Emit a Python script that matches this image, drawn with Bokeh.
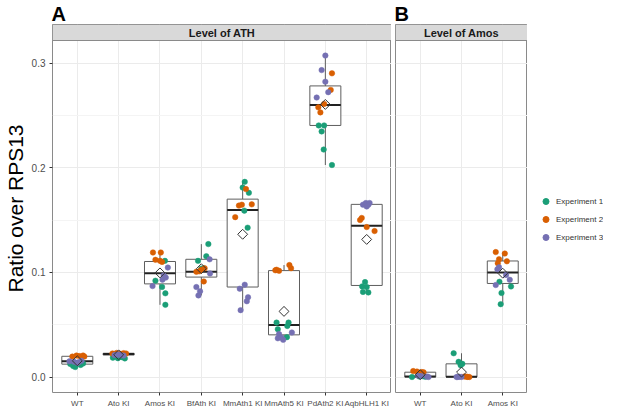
import numpy as np
from bokeh.plotting import figure
from bokeh.models import (Range1d, FixedTicker, Title, Legend, LegendItem, ColumnDataSource,
                          NumeralTickFormatter)
from bokeh.layouts import row
from bokeh.embed import file_html
from bokeh.resources import INLINE

# ---------------- data ----------------
genotypes_A = ["WT", "Ato KI", "Amos KI", "BfAth KI", "MmAth1 KI", "MmAth5 KI", "PdAth2 KI", "AqbHLH1 KI"]
genotypes_B = ["WT", "Ato KI", "Amos KI"]
strip_labels = ["Level of ATH", "Level of Amos"]
panel_letters = ["A", "B"]
experiments = ["Experiment 1", "Experiment 2", "Experiment 3"]
exp_colors = ["#1b9e77", "#d95f02", "#7570b3"]
y_title = "Ratio over RPS13"
y_ticks = [0.0, 0.1, 0.2, 0.3]
y_minor = [0.05, 0.15, 0.25]

# Panel A: ratio values per genotype, one list per experiment
A_exp1 = [[0.0125, 0.0105, 0.0095, 0.0115, 0.013],
          [0.0185, 0.018, 0.019, 0.0178, 0.0188],
          [0.111, 0.092, 0.086, 0.080, 0.069],
          [0.127, 0.1155, 0.111, 0.104, 0.1035],
          [0.1865, 0.181, 0.176, 0.159, 0.1427],
          [0.052, 0.052, 0.0488, 0.0457, 0.0381],
          [0.2404, 0.2404, 0.2347, 0.2174, 0.2026],
          [0.0907, 0.0866, 0.086, 0.0813, 0.0808]]
A_exp2 = [[0.0195, 0.0205, 0.020, 0.0205, 0.0195],
          [0.0225, 0.023, 0.0222, 0.0228, 0.0224],
          [0.119, 0.119, 0.112, 0.111, 0.110],
          [0.104, 0.1024, 0.1005, 0.0913, 0.101],
          [0.1796, 0.1638, 0.1647, 0.165, 0.1528],
          [0.1025, 0.1015, 0.102, 0.107, 0.104],
          [0.2902, 0.2744, 0.2577, 0.2529, 0.261],
          [0.150, 0.152, 0.1433, 0.1395]]
A_exp3 = [[0.015, 0.0145, 0.014, 0.0155, 0.0135],
          [0.021, 0.0215, 0.0208, 0.0212, 0.0205],
          [0.1046, 0.097, 0.093, 0.0869, 0.095],
          [0.1125, 0.099, 0.086, 0.0819, 0.078],
          [0.0882, 0.0844, 0.0762, 0.0724, 0.0639],
          [0.041, 0.0378, 0.0355, 0.0425, 0.037],
          [0.3072, 0.2933, 0.2822, 0.2722, 0.2671],
          [0.1647, 0.1663, 0.1647, 0.1663, 0.163]]
# horizontal jitter (in category widths)
A_exp1_dx = [[-0.17, -0.10, -0.05, 0.08, 0.14],
             [-0.14, -0.02, 0.08, 0.15, 0.0],
             [0.12, -0.11, 0.05, 0.13, 0.13],
             [0.17, 0.12, -0.08, 0.05, 0.0],
             [0.05, 0.0, 0.15, 0.04, 0.12],
             [-0.18, 0.11, 0.08, -0.15, 0.07],
             [-0.16, -0.03, -0.09, -0.04, 0.16],
             [-0.04, -0.11, 0.0, -0.09, 0.04]]
A_exp2_dx = [[-0.12, -0.02, 0.05, 0.14, 0.17],
             [-0.15, -0.05, 0.05, 0.12, 0.18],
             [-0.17, 0.02, -0.11, 0.0, 0.05],
             [0.08, 0.0, -0.12, 0.06, -0.05],
             [0.08, -0.09, -0.02, 0.22, -0.18],
             [-0.18, -0.12, -0.21, 0.13, 0.17],
             [0.16, 0.13, -0.17, -0.12, -0.03],
             [-0.16, -0.12, 0.0, 0.19]]
A_exp3_dx = [[-0.19, -0.08, 0.03, 0.10, 0.0],
             [-0.1, 0.0, 0.06, -0.04, 0.12],
             [0.19, 0.09, 0.06, -0.18, 0.14],
             [0.20, 0.21, -0.12, -0.03, -0.07],
             [0.05, -0.07, 0.13, 0.10, -0.05],
             [-0.12, -0.07, -0.02, 0.19, -0.15],
             [0.0, -0.09, 0.0, 0.07, -0.21],
             [-0.09, -0.02, 0.04, 0.07, 0.0]]
A_q1 = [0.0123, 0.0210, 0.0890, 0.0955, 0.0860, 0.0403, 0.2404, 0.0875]
A_median = [0.0151, 0.0220, 0.0992, 0.1005, 0.1597, 0.0497, 0.2599, 0.1445]
A_q3 = [0.0198, 0.0227, 0.1104, 0.1125, 0.1700, 0.1017, 0.2782, 0.1650]
A_low = [0.0095, 0.0178, 0.0690, 0.0780, 0.0639, 0.0355, 0.2026, 0.0808]
A_high = [0.0205, 0.0230, 0.1190, 0.1270, 0.1865, 0.1070, 0.3072, 0.1663]
A_mean = [0.0155, 0.0212, 0.0995, 0.1035, 0.1364, 0.0627, 0.2605, 0.1315]

# Panel B
B_exp1 = [[0.0, 0.0004, 0.0008, 0.0002],
          [0.0227, 0.0145, 0.0126, 0.0113],
          [0.091, 0.0866, 0.0803, 0.0696]]
B_exp2 = [[0.0057, 0.0052, 0.0047, 0.0045],
          [0.0005, 0.0, 0.0003, 0.0001],
          [0.1194, 0.118, 0.1125, 0.1106, 0.1087]]
B_exp3 = [[0.001, 0.0005, 0.0, 0.0012],
          [0.0, 0.0001, 0.0002, 0.0],
          [0.1049, 0.103, 0.0976, 0.0929, 0.0879]]
B_exp1_dx = [[-0.2, -0.02, 0.06, 0.12],
             [-0.19, -0.07, 0.02, -0.02],
             [-0.08, 0.2, -0.03, -0.05]]
B_exp2_dx = [[-0.17, -0.08, 0.03, 0.08],
             [0.07, 0.19, 0.12, 0.15],
             [-0.17, 0.05, -0.09, 0.10, -0.12]]
B_exp3_dx = [[0.02, 0.16, 0.2, -0.05],
             [-0.09, 0.0, -0.05, -0.12],
             [-0.09, -0.13, 0.08, 0.17, -0.17]]
B_q1 = [0.0, 0.0, 0.0894]
B_median = [0.0005, 0.0003, 0.0998]
B_q3 = [0.0046, 0.0126, 0.1109]
B_low = [0.0, 0.0, 0.0696]
B_high = [0.0057, 0.0227, 0.1194]
B_mean = [0.0022, 0.0047, 0.0992]

# ---------------- style / layout ----------------
FONT = "Liberation Sans"
BORDER = "#8a8a8a"
STRIP_FILL = "#d9d9d9"
GRID = "#ebebeb"
GRID_MINOR = "#f4f4f4"
Y_LO, Y_TOP = -0.0148, 0.3216
FRAME_H = 368
STRIP_PX = 16
PANEL_PX = FRAME_H - STRIP_PX
Y_HI = Y_TOP + (Y_TOP - Y_LO) * STRIP_PX / PANEL_PX
UNIT_PX = 41.4
BOX_W = 0.75


def letter_title(letter):
    return Title(text=letter, align="left", text_font=FONT, text_font_size="20px",
                 text_font_style="bold", text_color="black", standoff=0, offset=-1)


def make_panel(genos, exps, dxs, q1, med, q3, lo, hi, mean, strip_text, letter, first):
    n = len(genos)
    x0, x1 = 0.4, n + 0.6
    fw = int(round((x1 - x0) * UNIT_PX))
    p = figure(frame_width=fw, frame_height=FRAME_H,
               x_range=Range1d(x0, x1), y_range=Range1d(Y_LO, Y_HI),
               output_backend="svg", toolbar_location=None,
               min_border_top=0, min_border_bottom=0, min_border_right=0,
               min_border_left=0 if first else 4)
    p.title = letter_title(letter)
    p.background_fill_color = "white"
    p.border_fill_color = "white"
    p.outline_line_color = BORDER
    p.outline_line_width = 1

    xs = np.arange(1, n + 1)
    # x axis
    p.xaxis.ticker = FixedTicker(ticks=[int(v) for v in xs])
    p.xaxis.major_label_overrides = {int(v): g for v, g in zip(xs, genos)}
    p.xaxis.axis_line_color = None
    p.xaxis.major_tick_line_color = "#333333"
    p.xaxis.major_tick_out = 3
    p.xaxis.major_tick_in = 0
    p.xaxis.minor_tick_line_color = None
    p.xaxis.major_label_standoff = 3
    p.xaxis.major_label_text_font = FONT
    p.xaxis.major_label_text_font_size = "8px"
    p.xaxis.major_label_text_color = "#4d4d4d"
    p.xgrid.ticker = FixedTicker(ticks=[int(v) for v in xs])
    p.xgrid.grid_line_color = GRID
    # y axis
    p.yaxis.ticker = FixedTicker(ticks=y_ticks, minor_ticks=y_minor)
    p.ygrid.ticker = FixedTicker(ticks=y_ticks, minor_ticks=y_minor)
    p.ygrid.grid_line_color = GRID
    p.ygrid.minor_grid_line_color = GRID_MINOR
    if first:
        p.yaxis.axis_label = y_title
        p.yaxis.axis_label_text_font = FONT
        p.yaxis.axis_label_text_font_size = "21px"
        p.yaxis.axis_label_text_font_style = "normal"
        p.yaxis.axis_label_text_color = "black"
        p.yaxis.axis_label_standoff = 2
        p.yaxis.axis_line_color = None
        p.yaxis.major_tick_line_color = "#333333"
        p.yaxis.major_tick_out = 3
        p.yaxis.major_tick_in = 0
        p.yaxis.minor_tick_line_color = None
        p.yaxis.major_label_standoff = 3
        p.yaxis.major_label_text_font = FONT
        p.yaxis.major_label_text_font_size = "10px"
        p.yaxis.major_label_text_color = "#4d4d4d"
        p.yaxis.formatter = NumeralTickFormatter(format="0.0")
    else:
        p.yaxis.visible = False

    # strip
    p.quad(left=[x0], right=[x1], bottom=[Y_TOP], top=[Y_HI],
           fill_color=STRIP_FILL, line_color=BORDER, line_width=1)
    p.text(x=[(x0 + x1) / 2], y=[(Y_TOP + Y_HI) / 2], text=[strip_text],
           text_align="center", text_baseline="middle",
           text_font={"value": FONT}, text_font_size={"value": "11px"},
           text_font_style="bold", text_color="#1a1a1a")

    # boxes
    p.segment(x0=xs, x1=xs, y0=q3, y1=hi, line_color="#5e5e5e", line_width=1)
    p.segment(x0=xs, x1=xs, y0=lo, y1=q1, line_color="#5e5e5e", line_width=1)
    p.vbar(x=xs, top=q3, bottom=q1, width=BOX_W, fill_color="white",
           line_color="#5e5e5e", line_width=1)
    p.segment(x0=xs - BOX_W / 2, x1=xs + BOX_W / 2, y0=med, y1=med,
              line_color="#222222", line_width=2)

    # points
    for vals, dx, color in zip(exps, dxs, exp_colors):
        px, py = [], []
        for i, (gv, gd) in enumerate(zip(vals, dx)):
            for v, d in zip(gv, gd):
                px.append(xs[i] + d)
                py.append(v)
        src = ColumnDataSource(dict(x=px, y=py))
        p.scatter("x", "y", source=src, size=5.5, fill_color=color,
                  line_color=color, line_width=0.5)

    # means
    p.scatter(x=xs, y=mean, marker="square", angle=np.pi / 4, size=7,
              fill_alpha=0, line_color="#333333", line_width=1)
    return p


pA = make_panel(genotypes_A, [A_exp1, A_exp2, A_exp3], [A_exp1_dx, A_exp2_dx, A_exp3_dx],
                A_q1, A_median, A_q3, A_low, A_high, A_mean,
                strip_labels[0], panel_letters[0], True)
pB = make_panel(genotypes_B, [B_exp1, B_exp2, B_exp3], [B_exp1_dx, B_exp2_dx, B_exp3_dx],
                B_q1, B_median, B_q3, B_low, B_high, B_mean,
                strip_labels[1], panel_letters[1], False)

# legend in its own small figure (keys drawn from off-range stand-in glyphs)
LEG_W = 76
pL = figure(frame_width=LEG_W, frame_height=FRAME_H, x_range=Range1d(0, 1), y_range=Range1d(0, 1),
            output_backend="svg", toolbar_location=None, x_axis_location=None, y_axis_location=None,
            min_border_top=0, min_border_bottom=0, min_border_left=0, min_border_right=0)
pL.title = letter_title(" ")
pL.outline_line_color = None
pL.grid.visible = False
leg_renderers = [pL.scatter(x=[-5], y=[-5], size=5.5, fill_color=c, line_color=c) for c in exp_colors]
LEG_CENTER_PX = 193  # from frame top
legend = Legend(items=[LegendItem(label=lab, renderers=[r]) for lab, r in zip(experiments, leg_renderers)],
                location=(11, FRAME_H - LEG_CENTER_PX - 28), label_text_font=FONT,
                label_text_font_size="8px", label_text_color="#333333",
                glyph_width=15, glyph_height=16, spacing=2, padding=2, margin=0,
                label_standoff=3, border_line_color=None, background_fill_alpha=0)
pL.add_layout(legend, "center")

layout = row(pA, pB, pL, spacing=0)
open("out.html", "w").write(file_html(layout, INLINE))
